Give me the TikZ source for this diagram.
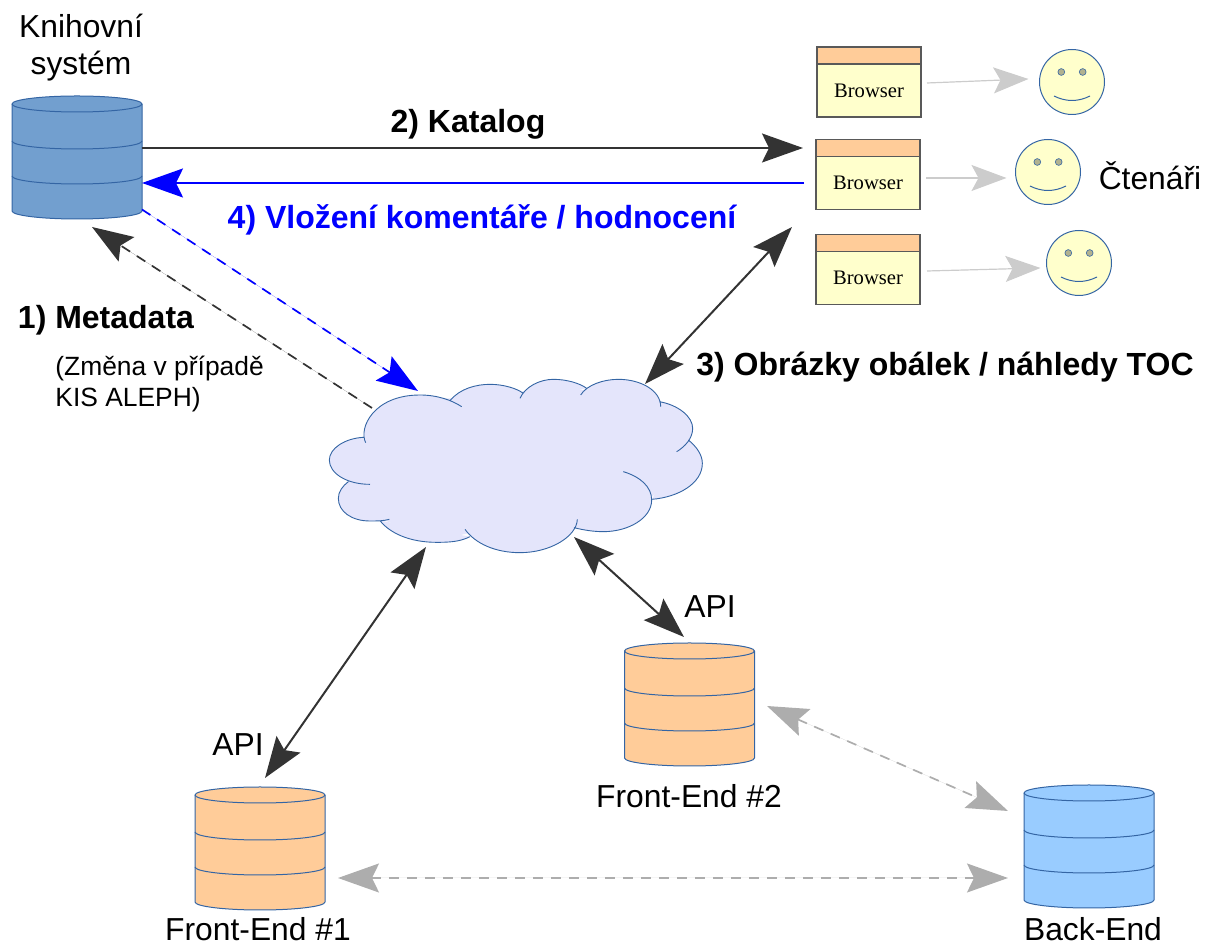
\documentclass[tikz,border=0pt]{standalone}
\usepackage{fontspec}
\setmainfont{Liberation Sans}
\newfontfamily\browserfont{Liberation Serif}
\usetikzlibrary{arrows.meta,positioning}

\definecolor{dbblue}{HTML}{729FCF}
\definecolor{dbsky}{HTML}{99CCFF}
\definecolor{dborange}{HTML}{FFCC99}
\definecolor{dbline}{HTML}{3465A4}
\definecolor{paleyellow}{HTML}{FFFFCC}
\definecolor{cloudblue}{HTML}{E4E5FB}
\definecolor{darkline}{HTML}{333333}
\definecolor{pureblue}{HTML}{0000FF}

\newcommand{\dbstack}[4]{
	\begin{scope}[shift={(#2,#3)}]
		\draw[draw=dbline, line width=0.5pt, fill=#4] (-65,0) arc[start angle=180, end angle=0, x radius=32.5pt, y radius=4pt] -- (65,107) arc[start angle=0, end angle=-180, x radius=32.5pt, y radius=4pt] -- cycle;
		\foreach \ring in {0,37,72}
		\draw[draw=dbline, line width=0.5pt] (-65,\ring) arc[start angle=180, end angle=360, x radius=32.5pt, y radius=4pt];
		\node[dbbox] (#1) at (0,53.5) {};
	\end{scope}
}

\newcommand{\cloudlobes}{
	(137,248) .. controls (115,205) and (160,105) .. (300,105) .. controls (350,105) and (395,120) .. (425,140)
	(390,122) .. controls (420,85) and (470,73) .. (510,73) .. controls (550,73) and (590,85) .. (610,100)
	(600,115) .. controls (615,80) and (660,58) .. (700,58) .. controls (740,58) and (780,70) .. (800,85)
	(782,105) .. controls (800,75) and (850,58) .. (895,58) .. controls (960,58) and (1022,90) .. (1022,140)
	(1018,125) .. controls (1075,135) and (1118,170) .. (1118,205) .. controls (1118,235) and (1095,260) .. (1070,275)
	(1105,240) .. controls (1130,260) and (1147,285) .. (1147,310) .. controls (1147,370) and (1075,412) .. (995,418)
	(910,335) .. controls (960,350) and (995,380) .. (995,420) .. controls (995,475) and (925,515) .. (850,515) .. controls (820,515) and (790,510) .. (762,503)
	(772,478) .. controls (770,530) and (690,578) .. (600,578) .. controls (525,578) and (465,550) .. (435,508)
	(450,530) .. controls (420,545) and (390,547) .. (350,547) .. controls (270,547) and (210,520) .. (180,482)
	(208,478) .. controls (190,483) and (170,483) .. (150,483) .. controls (95,483) and (55,455) .. (55,415) .. controls (55,395) and (68,378) .. (85,365)
	(150,373) .. controls (80,373) and (28,340) .. (28,300) .. controls (28,265) and (75,235) .. (130,232)
}

\begin{document}
\begin{tikzpicture}[x=0.5pt, y=-0.5pt]
	
	\tikzset{
		bigtip/.tip = {Stealth[length=20.5pt, width=14.5pt, inset=3.5pt]},
		smalltip/.tip = {Stealth[length=17.5pt, width=13pt, inset=3.5pt]},
		edge/.style = {-{bigtip}, draw=darkline, fill=darkline, line width=1pt},
		twoway/.style = {{bigtip}-{bigtip}, draw=darkline, fill=darkline, line width=1pt},
		blueedge/.style = {-{bigtip}, draw=pureblue, fill=pureblue, line width=1pt},
		dashedge/.style = {dashed, dash pattern=on 5pt off 4pt, line width=0.85pt},
		grayway/.style = {{bigtip}-{bigtip}, dashedge, draw=black!32, fill=black!32},
		lookedge/.style = {-{smalltip}, draw=black!20, fill=black!20, line width=0.6pt},
		dbbox/.style = {minimum width=65pt, minimum height=61.5pt, inner sep=0pt, outer sep=0pt},
		browserbody/.style = {rectangle, draw=black!65, line width=0.6pt, fill=paleyellow, minimum width=52pt, minimum height=26.5pt, inner sep=0pt, outer sep=0pt, font=\browserfont\fontsize{10.3}{12}\selectfont},
		browserhead/.style = {rectangle, draw=black!65, line width=0.6pt, fill=dborange, minimum width=52pt, minimum height=8.5pt, inner sep=0pt, outer sep=0pt},
		face/.style = {circle, draw=dbline, line width=0.5pt, fill=paleyellow, minimum size=32.5pt, inner sep=0pt, outer sep=0pt},
		cloudarea/.style = {minimum width=186pt, minimum height=87pt, inner sep=0pt, outer sep=0pt},
		lbl/.style = {inner sep=0pt, align=center, font=\fontsize{15.9}{18.5}\selectfont},
		boldlbl/.style = {inner sep=0pt, font=\fontsize{16}{18.5}\selectfont\bfseries}
	}
	
	\useasboundingbox (0,0) rectangle (1206,945);
	
	\dbstack{kis}{77}{104}{dbblue}
	\dbstack{feOne}{260}{795}{dborange}
	\dbstack{feTwo}{689.5}{651}{dborange}
	\dbstack{backEnd}{1089}{793}{dbsky}
	
	\begin{scope}[shift={(320,360)}, x=0.16667pt, y=-0.16667pt]
		\fill[cloudblue] (135,235) -- (300,115) -- (400,115) -- (510,85) -- (605,95) -- (700,70) -- (790,90) -- (895,70) -- (1020,125) -- (1110,200) -- (1110,245) -- (1140,310) -- (995,410) -- (985,425) -- (850,505) -- (770,500) -- (600,570) -- (445,520) -- (350,540) -- (190,480) -- (150,475) -- (60,415) -- (85,365) -- (40,300) -- cycle;
		\fill[cloudblue] \cloudlobes;
		\draw[draw=dbline, line width=0.45pt] \cloudlobes;
	\end{scope}
	\node[cloudarea] (cloud) at (516,466) {};
	
	\foreach \name/\x/\y in {brwA/869/90.5,brwB/868/183,brwC/868/278}{
		\node[browserbody] (\name) at (\x,\y) {Browser};
		\node[browserhead, above=0pt of \name] (\name Head) {};
	}
	
	\foreach \name/\x/\y in {faceA/1072/82,faceB/1048/172,faceC/1079/263}{
		\node[face] (\name) at (\x,\y) {};
		\draw[draw=dbline, line width=0.3pt, fill=black!30!paleyellow] ([shift={(-10.7,-10)}]\name.center) circle (3.4);
		\draw[draw=dbline, line width=0.3pt, fill=black!30!paleyellow] ([shift={(10.7,-10)}]\name.center) circle (3.4);
		\draw[draw=dbline, line width=0.5pt] ([shift={(-18,14)}]\name.center) .. controls ([shift={(-6,20)}]\name.center) and ([shift={(6,20)}]\name.center) .. ([shift={(18,14)}]\name.center);
	}
	
	\foreach \source/\dest/\sx/\sy/\dx/\dy in {brwA/faceA/6/-7.5/-11/-3,brwB/faceB/6/-5/-9/6,brwC/faceC/7/-7/-6/5}
	\draw[lookedge] ([shift={(\sx,\sy)}]\source.east) -- ([shift={(\dx,\dy)}]\dest.west);
	
	\draw[edge] ([shift={(0,-9.5)}]kis.east) -- ([shift={(-13,-35)}]brwB.west);
	\draw[blueedge] ([shift={(-12,0)}]brwB.west) -- ([shift={(0,25.5)}]kis.east);
	\draw[edge, dashedge] ([shift={(-144,-58)}]cloud.center) -- ([shift={(15,8)}]kis.south);
	\draw[blueedge, dashedge] ([shift={(0,52)}]kis.east) -- ([shift={(-98,-75)}]cloud.center);
	\draw[twoway] ([shift={(129,-82)}]cloud.center) -- ([shift={(-24,-51)}]brwC.west);
	\draw[twoway] ([shift={(-90,81)}]cloud.center) -- ([shift={(5,-9)}]feOne.north);
	\draw[twoway] ([shift={(58,71)}]cloud.center) -- ([shift={(-5.5,-6)}]feTwo.north);
	\draw[grayway] ([shift={(12.5,1.5)}]feTwo.east) -- ([shift={(-16,-35.5)}]backEnd.west);
	\draw[grayway] ([shift={(13,29.5)}]feOne.east) -- ([shift={(-16,31.5)}]backEnd.west);
	
	\node[lbl] (kisLabel) at (81,48) {Knihovní\\systém};
	\node[lbl] (readers) at (1150,176) {Čtenáři};
	\node[boldlbl] (catalog) at (468,124.5) {2) Katalog};
	\node[boldlbl, text=pureblue] (comment) at (482,219.5) {4) Vložení komentáře / hodnocení};
	\node[boldlbl] (metadata) at (106,320) {1) Metadata};
	\node[lbl, align=left, anchor=west, font=\fontsize{13.2}{15.5}\selectfont] (aleph) at (55,384) {(Změna v případě\\KIS ALEPH)};
	\node[boldlbl] (covers) at (945,367.5) {3) Obrázky obálek / náhledy TOC};
	\node[lbl] (apiOne) at (238,745) {API};
	\node[lbl] (apiTwo) at (710,607) {API};
	\node[lbl] (feOneLabel) at (258,929) {Front-End \#1};
	\node[lbl] (feTwoLabel) at (689,796) {Front-End \#2};
	\node[lbl] (backLabel) at (1093,929) {Back-End};
	
\end{tikzpicture}
\end{document}
